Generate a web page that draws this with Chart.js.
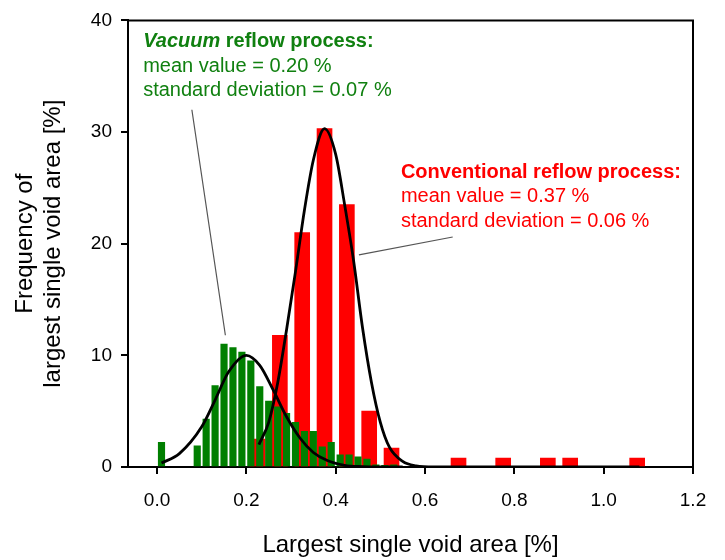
<!DOCTYPE html>
<html>
<head>
<meta charset="utf-8">
<script src="https://cdn.jsdelivr.net/npm/chart.js@4.4.1/dist/chart.umd.min.js"></script>
<style>
  html, body { margin: 0; padding: 0; background: #fff; }
  #wrap { width: 725px; height: 560px; }
</style>
</head>
<body>
<div id="wrap"><canvas id="chart" width="725" height="560"></canvas></div>
<script>
// histogram bins, vacuum reflow (bin width 0.02 %)
const vacuumBins = [0.01, 0.09, 0.11, 0.13, 0.15, 0.17, 0.19, 0.21, 0.23, 0.25, 0.27, 0.29,
                    0.31, 0.33, 0.35, 0.37, 0.39, 0.41, 0.43, 0.45, 0.47, 0.49, 0.51, 0.53];
const vacuumFreq = [2.2, 1.9, 4.3, 7.3, 11.0, 10.7, 10.3, 9.5, 7.2, 5.9, 5.4, 4.8,
                    4.0, 3.2, 3.2, 1.8, 2.2, 1.1, 1.1, 0.9, 0.7, 0.2, 0.15, 0.2];

// histogram bins, conventional reflow (bin width 0.05 %)
const convBins = [0.225, 0.275, 0.325, 0.375, 0.425, 0.475, 0.525, 0.675, 0.775, 0.875, 0.925, 1.075];
const convFreq = [2.5, 11.8, 21.0, 30.3, 23.5, 5.0, 1.7, 0.8, 0.8, 0.8, 0.8, 0.8];

// fitted curves
const vacuumFitX = [0.01, 0.05, 0.10, 0.13, 0.16, 0.20, 0.23, 0.26, 0.29, 0.32, 0.35, 0.38, 0.42, 0.46, 0.50, 0.55];
const vacuumFitY = [0.35, 1.2, 3.6, 6.0, 8.5, 10.0, 9.1, 6.9, 4.5, 2.6, 1.3, 0.6, 0.15, 0.03, 0, 0];
const convFitX = [0.228, 0.25, 0.27, 0.29, 0.31, 0.33, 0.35, 0.375, 0.40, 0.42, 0.44, 0.46, 0.48, 0.50, 0.52, 0.55, 0.58, 0.62, 1.08];
const convFitY = [2.0, 4.0, 7.5, 12.3, 17.5, 23.0, 27.5, 30.3, 28.0, 23.5, 18.5, 12.5, 7.6, 4.0, 1.8, 0.5, 0.1, 0, 0];

const xTicks = [0.0, 0.2, 0.4, 0.6, 0.8, 1.0, 1.2];
const yTicks = [0, 10, 20, 30, 40];

const GREEN = '#007f00';
const RED = '#ff0000';
const FONT = "'Liberation Sans', Arial, sans-serif";

function pts(xs, ys) {
    return xs.map(function (x, i) { return { x: x, y: ys[i] }; });
}

// frame on top and right
const boxPlugin = {
    id: 'box',
    afterDraw: function (chart) {
        const a = chart.chartArea;
        const ctx = chart.ctx;
        ctx.save();
        ctx.strokeStyle = '#000';
        ctx.lineWidth = 2;
        ctx.beginPath();
        ctx.moveTo(a.left, a.top);
        ctx.lineTo(a.right, a.top);
        ctx.lineTo(a.right, a.bottom);
        ctx.stroke();
        ctx.restore();
    }
};

// text boxes and their leader lines (anchored in data units)
const notesPlugin = {
    id: 'notes',
    afterDraw: function (chart) {
        const ctx = chart.ctx;
        const sx = chart.scales.x, sy = chart.scales.y;
        const px = function (v) { return sx.getPixelForValue(v); };
        const py = function (v) { return sy.getPixelForValue(v); };
        ctx.save();

        ctx.strokeStyle = '#555';
        ctx.lineWidth = 1.2;
        ctx.beginPath();
        ctx.moveTo(px(0.078), py(32.0));
        ctx.lineTo(px(0.153), py(11.8));
        ctx.moveTo(px(0.452), py(19.0));
        ctx.lineTo(px(0.662), py(20.6));
        ctx.stroke();

        ctx.textBaseline = 'middle';
        ctx.textAlign = 'left';

        // vacuum
        let x0 = px(-0.031), y0 = py(38.1);
        ctx.fillStyle = '#108010';
        ctx.font = 'italic bold 20px ' + FONT;
        ctx.fillText('Vacuum', x0, y0);
        const w = ctx.measureText('Vacuum ').width;
        ctx.font = 'bold 20px ' + FONT;
        ctx.fillText('reflow process:', x0 + w, y0);
        ctx.font = '20px ' + FONT;
        ctx.fillText('mean value = 0.20 %', x0, y0 + 24.5);
        ctx.fillText('standard deviation = 0.07 %', x0, y0 + 49);

        // conventional
        x0 = px(0.546); y0 = py(26.4);
        ctx.fillStyle = RED;
        ctx.font = 'bold 20px ' + FONT;
        ctx.fillText('Conventional reflow process:', x0, y0);
        ctx.font = '20px ' + FONT;
        ctx.fillText('mean value = 0.37 %', x0, y0 + 24.5);
        ctx.fillText('standard deviation = 0.06 %', x0, y0 + 49);

        ctx.restore();
    }
};

new Chart(document.getElementById('chart'), {
    type: 'bar',
    data: {
        datasets: [
            {
                type: 'line',
                data: pts(vacuumFitX, vacuumFitY),
                borderColor: '#000',
                borderWidth: 2.8,
                pointRadius: 0,
                cubicInterpolationMode: 'monotone',
                fill: false,
                order: 0
            },
            {
                type: 'line',
                data: pts(convFitX, convFitY),
                borderColor: '#000',
                borderWidth: 2.8,
                pointRadius: 0,
                cubicInterpolationMode: 'monotone',
                fill: false,
                order: 0
            },
            {
                data: pts(vacuumBins, vacuumFreq),
                backgroundColor: GREEN,
                borderWidth: 0,
                grouped: false,
                barThickness: 6.5,
                order: 1
            },
            {
                data: pts(convBins, convFreq),
                backgroundColor: RED,
                borderWidth: 0,
                grouped: false,
                barThickness: 15,
                order: 2
            }
        ]
    },
    options: {
        responsive: false,
        animation: false,
        devicePixelRatio: 1,
        layout: { padding: { top: 16, right: 32, left: 0, bottom: 0 } },
        plugins: {
            legend: { display: false },
            tooltip: { enabled: false }
        },
        scales: {
            x: {
                type: 'linear',
                min: -0.065,
                max: 1.2,
                offset: false,
                afterBuildTicks: function (scale) {
                    scale.ticks = xTicks.map(function (v) { return { value: v }; });
                },
                afterFit: function (scale) { scale.height = 93; },
                border: { display: true, color: '#000', width: 2 },
                grid: { drawOnChartArea: false, drawTicks: true, tickLength: 7, color: '#000', lineWidth: 2, offset: false },
                ticks: {
                    color: '#000',
                    padding: 15,
                    maxRotation: 0,
                    autoSkip: false,
                    font: { family: FONT, size: 19 },
                    callback: function (v) { return Number(v).toFixed(1); }
                },
                title: {
                    display: true,
                    text: 'Largest single void area [%]',
                    color: '#000',
                    font: { family: FONT, size: 24 },
                    padding: { top: 0, bottom: 0 }
                }
            },
            y: {
                min: 0,
                max: 40,
                afterBuildTicks: function (scale) {
                    scale.ticks = yTicks.map(function (v) { return { value: v }; });
                },
                afterFit: function (scale) { scale.width = 128; },
                border: { display: true, color: '#000', width: 2 },
                grid: { drawOnChartArea: false, drawTicks: true, tickLength: 7, color: '#000', lineWidth: 2 },
                ticks: {
                    color: '#000',
                    padding: 9,
                    font: { family: FONT, size: 19 }
                },
                title: {
                    display: true,
                    text: ['Frequency of', 'largest single void area [%]'],
                    color: '#000',
                    font: { family: FONT, size: 24, lineHeight: 1.17 },
                    padding: { top: 11, bottom: 0 }
                }
            }
        }
    },
    plugins: [boxPlugin, notesPlugin]
});
</script>
</body>
</html>
